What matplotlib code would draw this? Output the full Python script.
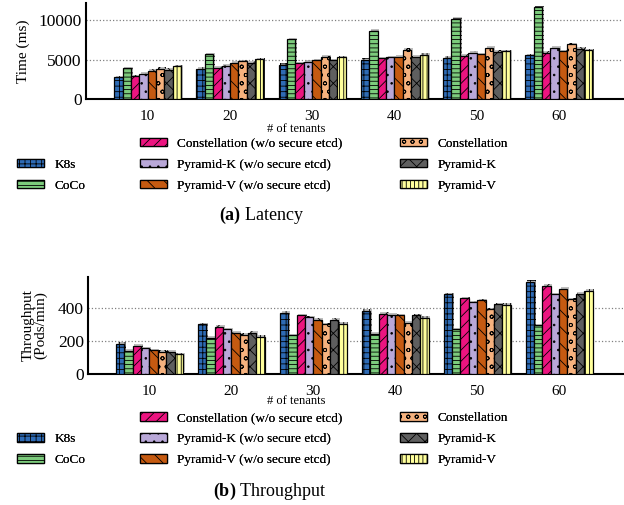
import matplotlib
matplotlib.use("Agg")
import matplotlib.pyplot as plt
import matplotlib.patheffects as pe
from matplotlib.patches import Patch
import numpy as np

plt.rcParams['font.family'] = ['Liberation Serif', 'DejaVu Serif']
plt.rcParams['mathtext.fontset'] = 'custom'
plt.rcParams['mathtext.rm'] = 'Liberation Serif'
plt.rcParams['mathtext.bf'] = 'Liberation Serif:bold'
plt.rcParams['hatch.linewidth'] = 0.6

tenants = ['10', '20', '30', '40', '50', '60']
series = ['K8s', 'CoCo', 'Constellation (w/o secure etcd)', 'Pyramid-K (w/o secure etcd)',
          'Pyramid-V (w/o secure etcd)', 'Constellation', 'Pyramid-K', 'Pyramid-V']

latency = [
    [2770, 3820, 4320, 4950, 5240, 5540],    # K8s
    [3900, 5670, 7560, 8600, 10150, 11590],  # CoCo
    [2900, 3940, 4530, 5160, 5490, 5870],    # Constellation w/o
    [3190, 4230, 4700, 5290, 5870, 6460],    # Pyramid-K w/o
    [3560, 4570, 4910, 5370, 5670, 6050],    # Pyramid-V w/o
    [3820, 4790, 5330, 6210, 6460, 6930],    # Constellation
    [3690, 4570, 4910, 5370, 6000, 6370],    # Pyramid-K
    [4150, 5040, 5290, 5620, 6050, 6170],    # Pyramid-V
]

throughput = [
    [182, 302, 373, 383, 486, 563],
    [141, 220, 235, 245, 272, 296],
    [169, 286, 357, 365, 461, 538],
    [155, 272, 345, 361, 437, 486],
    [143, 251, 328, 357, 449, 520],
    [133, 237, 302, 310, 394, 455],
    [133, 251, 330, 357, 424, 490],
    [119, 226, 304, 341, 422, 508],
]

colors = ['#2e6bb5', '#7ccb7c', '#ec1480', '#b9a8d8', '#c55a11', '#f6b27e', '#5f5f5f', '#ffff9c']
hatches = ['+++', '----', '///', '..', '\\\\', 'oo', 'xx', '||||']

W, H = 624, 505
fig = plt.figure(figsize=(W / 100, H / 100), dpi=100)


def px_axes(left, top, right, bottom):
    return fig.add_axes([left / W, 1 - bottom / H, (right - left) / W, (bottom - top) / H])


def draw(ax, data, ymax, yticks):
    x = np.arange(len(tenants))
    bw = 0.102
    for i, vals in enumerate(data):
        off = (i - 3.5) * bw
        ax.bar(x + off, vals, bw, color=colors[i], edgecolor='black', linewidth=0.9,
               hatch=hatches[i], zorder=3,
               path_effects=[pe.SimplePatchShadow(offset=(1.2, 1.2), shadow_rgbFace='gray', alpha=0.5),
                             pe.Normal()])
    ax.set_xlim(-0.75, 5.78)
    ax.set_ylim(0, ymax)
    ax.set_xticks(x)
    ax.set_xticklabels(tenants)
    ax.set_yticks(yticks)
    ax.tick_params(axis='both', length=0)
    ax.tick_params(axis='x', pad=8, labelsize=11)
    ax.tick_params(axis='y', pad=3, labelsize=12.5)
    for y in yticks[1:]:
        ax.axhline(y, color='gray', linestyle=':', linewidth=0.9, zorder=1)
    ax.spines['top'].set_visible(False)
    ax.spines['right'].set_visible(False)
    ax.spines['left'].set_linewidth(1.5)
    ax.spines['bottom'].set_linewidth(1.5)


def handle(i):
    return Patch(facecolor=colors[i], edgecolor='black', hatch=hatches[i],
                 linewidth=0.9, label=series[i])


def legend(y_top):
    cols = [
        (12, [Patch(facecolor='none', edgecolor='none', label=' '), handle(0), handle(1)]),
        (135, [handle(2), handle(3), handle(4)]),
        (395, [handle(5), handle(6), handle(7)]),
    ]
    for x0, hs in cols:
        leg = fig.legend(handles=hs, loc='upper left', bbox_to_anchor=(x0 / W, 1 - y_top / H),
                         frameon=False, fontsize=9.5, handlelength=2.05, handleheight=0.6,
                         handletextpad=0.75, labelspacing=0.68, borderaxespad=0, borderpad=0.4)
        fig.add_artist(leg)


ax1 = px_axes(86, 3, 623, 99.3)
draw(ax1, latency, 12130, [0, 5000, 10000])
ax1.set_ylabel('Time (ms)', fontsize=11)
ax1.yaxis.set_label_coords(-0.104, 0.5)
fig.text(296 / W, 1 - 129 / H, '# of tenants', ha='center', va='center', fontsize=9)
legend(132.5)
fig.text(262 / W, 1 - 215.5 / H, r'$\mathbf{(a)}$ Latency', ha='center', va='center', fontsize=13)

ax2 = px_axes(88, 276.7, 623, 373.7)
draw(ax2, throughput, 593, [0, 200, 400])
ax2.set_ylabel('Throughput\n(Pods/min)', fontsize=11, linespacing=0.95)
ax2.yaxis.set_label_coords(-0.075, 0.5)
fig.text(296 / W, 1 - 401.5 / H, '# of tenants', ha='center', va='center', fontsize=9)
legend(407)
fig.text(270 / W, 1 - 491.5 / H, r'$\mathbf{(b)}$ Throughput', ha='center', va='center', fontsize=13)

fig.savefig('out.png', dpi=100)
